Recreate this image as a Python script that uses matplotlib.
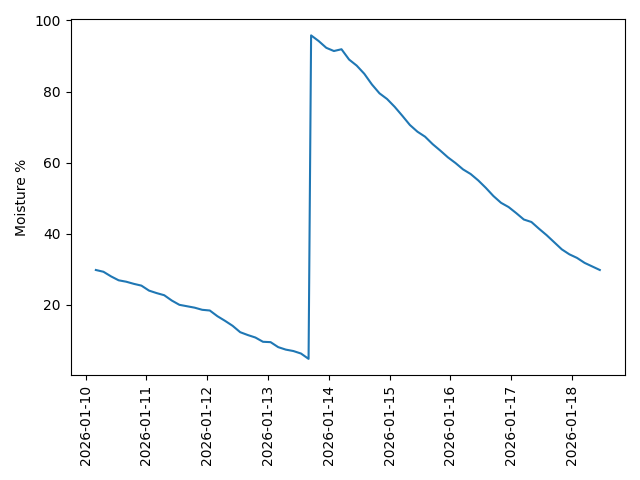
import pandas as pd
import matplotlib
matplotlib.use("Agg")
import matplotlib.pyplot as plt

# readings before watering (every 3 hours from 2026-01-10 04:00)
dry_values = [29.8, 29.3, 28.0, 26.9, 26.5, 25.9, 25.4, 24.0, 23.3, 22.7,
              21.2, 20.0, 19.6, 19.2, 18.6, 18.4, 16.8, 15.5, 14.1, 12.3,
              11.5, 10.8, 9.6, 9.5, 8.1, 7.4, 7.0, 6.3, 4.8]
# readings after watering (every 3 hours from 2026-01-13 17:00)
wet_values = [95.8, 94.2, 92.3, 91.4, 91.9, 89.0, 87.3, 85.0, 82.0, 79.5,
              77.9, 75.7, 73.2, 70.6, 68.7, 67.3, 65.2, 63.4, 61.5, 59.9,
              58.1, 56.8, 55.0, 52.9, 50.6, 48.7, 47.5, 45.8, 44.0, 43.3,
              41.4, 39.6, 37.6, 35.6, 34.2, 33.2, 31.8, 30.8, 29.8]

dry_times = pd.date_range("2026-01-10 04:00", periods=len(dry_values), freq="3h")
wet_times = pd.date_range("2026-01-13 17:00", periods=len(wet_values), freq="3h")

times = dry_times.append(wet_times)
moisture = dry_values + wet_values

fig, ax = plt.subplots(figsize=(6.4, 4.8), dpi=100)
ax.plot(times, moisture)
ax.set_ylabel("Moisture %")
plt.xticks(rotation=90)
fig.tight_layout()
fig.savefig("out.png")
